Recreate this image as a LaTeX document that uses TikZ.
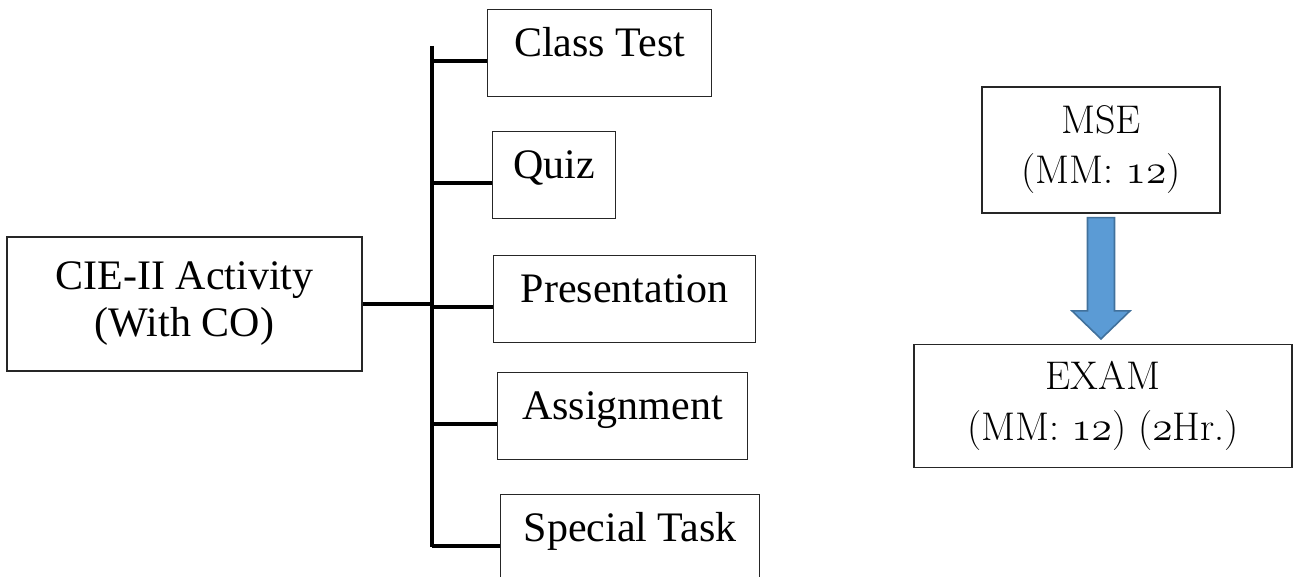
\documentclass[tikz,border=0pt]{standalone}
\usepackage{fontspec}
\usepackage{tikz}
\usetikzlibrary{calc}
\newfontfamily\garfont{Liberation Serif}
\newcommand\osnum[1]{{\usefont{OML}{cmm}{m}{it}#1}}
\definecolor{arrowblue}{HTML}{5B9BD5}
\definecolor{arrowedge}{HTML}{41719C}

\begin{document}
\begin{tikzpicture}[x=0.5pt,y=-0.5pt,
  box/.style={draw=black!85,line width=0.6pt,inner sep=0pt,anchor=north west,
    minimum width=#1,text height=23.5pt,text depth=20pt,
    font=\garfont\fontsize{21}{23.5}\selectfont},
  tall/.style={draw=black!85,line width=0.6pt,align=center,inner sep=0pt,minimum width=#1},
  link/.style={line width=2pt},
  bigarrow/.style={fill=arrowblue,draw=arrowedge,line width=0.8pt,line join=miter}]
\useasboundingbox (0,0) rectangle (1301,577);

% activity and its five parts
\node[tall=177.5pt,minimum height=67pt,font=\garfont\fontsize{21}{23.5}\selectfont] (cie) at (184.5,304) {CIE-II Activity\\(With CO)};
\node[box=112pt] (ct) at (487,9) {Class Test};
\node[box=61.5pt] (qz) at (492,131) {Quiz};
\node[box=131pt] (pr) at (493,255) {Presentation};
\node[box=125pt] (as) at (497,372) {Assignment};
\node[box=129.5pt] (st) at (500,494) {Special Task};

\coordinate (bustop) at (432,46);
\coordinate (busbot) at (432,547);
\draw[link] (bustop) -- (busbot);
\draw[link] (cie.east) -- (cie.east -| bustop);
\foreach \n in {ct,qz,pr,as,st}
  \draw[link] ([yshift=-2pt]\n.base west) -- ([yshift=-2pt]\n.base west -| bustop);

% exam side
\node[tall=119pt,minimum height=63pt,font=\fontsize{20}{25}\selectfont] (mse) at (1101,150) {MSE\\(MM: \osnum{12})};
\node[tall=189pt,minimum height=61.5pt,font=\fontsize{20}{25.5}\selectfont] (exam) at (1103,406) {EXAM\\(MM: \osnum{12}) (\osnum{2}Hr.)};
\draw[bigarrow] ($(mse.south)+(-13.5,4)$) -- ($(mse.south)+(13.5,4)$)
  -- ($(mse.south |- exam.north)+(13.5,-33)$) -- ($(mse.south |- exam.north)+(29,-33)$)
  -- ($(mse.south |- exam.north)+(0,-5)$) -- ($(mse.south |- exam.north)+(-29,-33)$)
  -- ($(mse.south |- exam.north)+(-13.5,-33)$) -- cycle;
\end{tikzpicture}
\end{document}
